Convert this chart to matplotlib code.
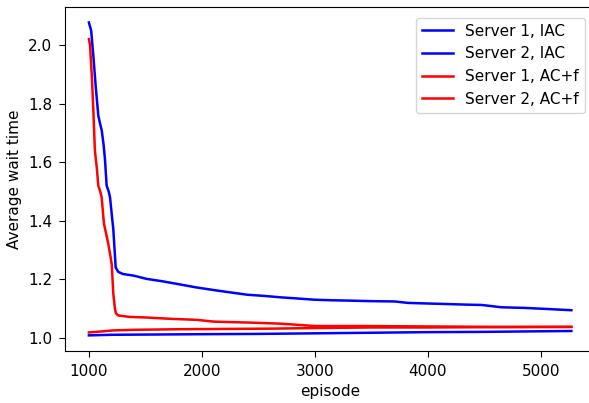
import matplotlib
matplotlib.use("Agg")
from matplotlib import pyplot as plt

# Server 1, IAC
ep_iac1 = [1000, 1020, 1040, 1060, 1083, 1100, 1113, 1130, 1142, 1157, 1175, 1187, 1200, 1216,
           1237, 1260, 1300, 1400, 1513, 1650, 1809, 1950, 2105, 2250, 2401, 2550, 2698, 2850,
           2994, 3150, 3291, 3500, 3705, 3824, 4000, 4180, 4350, 4476, 4653, 4850, 5068, 5270]
wt_iac1 = [2.078, 2.05, 1.96, 1.86, 1.76, 1.73, 1.71, 1.66, 1.61, 1.52, 1.50, 1.48, 1.43, 1.37,
           1.24, 1.225, 1.218, 1.212, 1.201, 1.193, 1.182, 1.172, 1.163, 1.155, 1.147, 1.143, 1.138, 1.134,
           1.130, 1.128, 1.127, 1.125, 1.124, 1.119, 1.117, 1.115, 1.113, 1.112, 1.104, 1.102, 1.098, 1.094]

# Server 2, IAC
ep_iac2 = [1000, 1200, 1600, 2000, 2500, 3000, 3500, 4000, 4500, 5000, 5270]
wt_iac2 = [1.008, 1.010, 1.011, 1.012, 1.013, 1.015, 1.017, 1.019, 1.020, 1.022, 1.023]

# Server 1, AC+f
ep_acf1 = [1000, 1010, 1025, 1038, 1053, 1070, 1083, 1100, 1113, 1133, 1150, 1172, 1190, 1202,
           1216, 1230, 1240, 1260, 1364, 1513, 1700, 1957, 2105, 2400, 2698, 2850, 2994, 3200,
           3437, 3800, 4200, 4600, 5000, 5270]
wt_acf1 = [2.021, 2.00, 1.90, 1.79, 1.64, 1.58, 1.52, 1.50, 1.48, 1.39, 1.36, 1.32, 1.28, 1.25,
           1.15, 1.10, 1.083, 1.076, 1.071, 1.069, 1.065, 1.061, 1.055, 1.052, 1.048, 1.044, 1.040, 1.040,
           1.040, 1.039, 1.038, 1.037, 1.037, 1.037]

# Server 2, AC+f
ep_acf2 = [1000, 1100, 1216, 1400, 1800, 2200, 2600, 3000, 3500, 4000, 4500, 5270]
wt_acf2 = [1.018, 1.021, 1.025, 1.027, 1.029, 1.030, 1.031, 1.033, 1.035, 1.035, 1.036, 1.037]

plt.rcParams["font.size"] = 11
plt.rcParams["xtick.major.size"] = 4.5
plt.rcParams["ytick.major.size"] = 4.5
plt.rcParams["xtick.major.pad"] = 4.5
plt.rcParams["ytick.major.pad"] = 4.5

fig = plt.figure(figsize=[5.89, 4.03], dpi=100)
ax = fig.add_subplot(111)
# right edge sits just past the canvas, as in the reference crop
fig.subplots_adjust(left=0.110, right=1.011, top=0.983, bottom=0.129)

lw = 1.8
ax.plot(ep_iac1, wt_iac1, color="blue", lw=lw, label="Server 1, IAC")
ax.plot(ep_iac2, wt_iac2, color="blue", lw=lw, label="Server 2, IAC")
ax.plot(ep_acf1, wt_acf1, color="red", lw=lw, label="Server 1, AC+f")
ax.plot(ep_acf2, wt_acf2, color="red", lw=lw, label="Server 2, AC+f")

ax.set_xlabel("episode")
ax.set_ylabel("Average wait time")
ax.legend(loc="upper right", borderaxespad=0.7)

plt.savefig("out.png", dpi=100)
